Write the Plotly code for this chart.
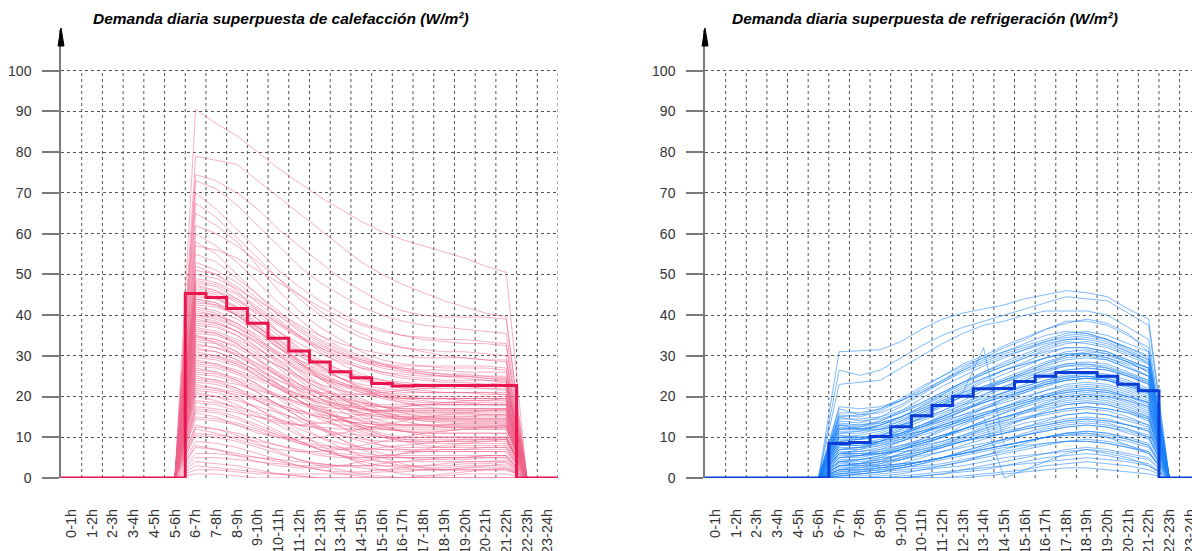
import plotly.graph_objects as go

# ---------------- data ----------------
hour_labels = ["0-1h", "1-2h", "2-3h", "3-4h", "4-5h", "5-6h", "6-7h", "7-8h", "8-9h",
               "9-10h", "10-11h", "11-12h", "12-13h", "13-14h", "14-15h", "15-16h",
               "16-17h", "17-18h", "18-19h", "19-20h", "20-21h", "21-22h", "22-23h", "23-24h"]

# average (thick step line), one value per hour 0-1h ... 23-24h
heating_mean = [0, 0, 0, 0, 0, 0, 45.3, 44.3, 41.6, 38.0, 34.3, 31.2, 28.5, 26.1, 24.6, 23.2,
                22.6, 22.7, 22.7, 22.7, 22.7, 22.7, 0, 0]
cooling_mean = [0, 0, 0, 0, 0, 0, 8.5, 8.7, 10.2, 12.6, 15.3, 17.8, 20.1, 21.9, 22.0, 23.7,
                25.0, 25.9, 25.9, 25.0, 23.0, 21.4, 0, 0]

# individual days, values for hours 6-7h ... 21-22h (zero outside)
H01 = [90.5, 87, 84, 80, 76, 72.5, 69, 66, 63, 60.5, 58.5, 57, 55.5, 54, 52, 50.5]
H02 = [79, 78, 77, 73, 69, 65, 61, 57, 53, 50, 47.5, 45.5, 43.5, 42, 40.5, 39.5]
H03 = [74.5, 73, 70, 66, 61, 57, 53, 49, 46, 43, 41, 40, 39.5, 39.5, 39.5, 39]
H04 = [73, 71, 67, 62, 57, 52, 48, 45, 42, 40, 38.5, 37.5, 37, 36.5, 36, 35.5]
H05 = [70, 66, 61, 56, 51, 47, 43.5, 40.5, 38, 36.5, 35, 34, 33.5, 33, 33, 32.5]
H06 = [67.5, 64, 59, 54, 49, 44, 40, 37, 34.5, 33, 32, 31.5, 31, 31, 30.5, 30]
H07 = [65, 62, 58, 52, 46, 41, 37, 34, 31, 29, 28, 27.5, 27, 27, 27, 26.5]
H08 = [62, 60, 57, 53, 49, 45, 41, 38, 35.5, 33.5, 32, 31, 30, 29.5, 29, 28.5]
H09 = [60, 57, 53, 48, 43, 39, 35, 32, 30, 28, 26.5, 25.5, 25, 25, 24.5, 24]
H10 = [58, 55, 50, 45, 40, 36, 33, 30.5, 28.5, 27, 26, 25.5, 25, 24.5, 24, 24]
H11 = [55, 53, 49, 45, 41, 37, 34, 31.5, 29.5, 28, 27, 26, 25.5, 25, 25, 24.5]
H12 = [53, 51, 48, 44, 40, 36.5, 33.5, 31, 29, 27.5, 26.5, 26, 25.5, 25.5, 25, 25]
H13 = [51, 50, 47, 43, 39, 35, 31, 28, 25.5, 24, 23, 22.5, 22.5, 22.5, 22, 22]
H14 = [50, 49, 46.5, 43.5, 40.5, 37.5, 35, 33, 31.5, 30.5, 30, 29.5, 29.5, 29.5, 29, 29]
H15 = [48, 47, 44, 40, 36, 32, 29, 26.5, 24.5, 23, 22, 21.5, 21, 21, 21, 20.5]
H16 = [47, 46, 44, 41, 38, 35, 32.5, 30.5, 29, 28, 27.5, 27.5, 27.5, 27.5, 27.5, 27]
H17 = [46, 45, 42, 38, 34, 30, 27, 24.5, 22.5, 21, 20, 19.5, 19.5, 19, 19, 19]
H18 = [45, 44, 41, 37, 33, 29, 26, 23.5, 21.5, 20, 19, 18.5, 18.5, 18.5, 18, 18]
H19 = [44, 43, 40.5, 37, 33.5, 30.5, 28, 26, 24.5, 23.5, 23, 23, 23, 22.5, 22.5, 22.5]
H20 = [43, 42.5, 40, 36, 32, 28, 24.5, 21.5, 19, 17.5, 16.5, 16, 16, 16, 15.5, 15.5]
H21 = [42, 41, 39, 36, 33, 30, 27.5, 25.5, 24, 23, 22.5, 22, 22, 22, 22, 21.5]
H22 = [41, 40, 37.5, 34, 30, 26, 22.5, 19.5, 17, 15.5, 14.5, 14, 14, 14, 14, 14]
H23 = [40, 39.5, 37, 33, 29, 25, 21, 18, 15.5, 14, 13, 13, 13, 13, 13, 13]
H24 = [39, 38, 36, 33, 30, 27, 24.5, 22.5, 21, 20, 19.5, 19.5, 19.5, 19.5, 19.5, 19.5]
H25 = [38, 37.5, 35, 31, 27, 23, 19.5, 16.5, 14, 12.5, 11.5, 11, 11, 11, 11, 11]
H26 = [37, 36, 34, 31.5, 29, 26.5, 24.5, 23, 22, 21.5, 21, 21, 21, 21, 21, 21]
H27 = [36, 35.5, 33, 29, 25, 21, 17.5, 14.5, 12, 10.5, 9.5, 9, 9, 9.5, 9.5, 9.5]
H28 = [35, 34, 32, 29, 26, 23, 20.5, 18.5, 17, 16, 15.5, 15.5, 15.5, 15.5, 15.5, 15.5]
H29 = [34, 33.5, 31, 27, 23, 19, 15.5, 12.5, 10, 8, 7, 6.5, 6.5, 6.5, 6.5, 6.5]
H30 = [33, 32, 30, 27.5, 25, 22.5, 20.5, 19, 18, 17.5, 17, 17, 17, 17, 17, 17]
H31 = [32, 31, 29, 26, 23, 20, 17, 14.5, 12.5, 11, 10, 10, 10, 10, 10, 10]
H32 = [30, 29.5, 28, 25.5, 23, 20.5, 18.5, 17, 16, 15.5, 15, 15, 15, 15, 15.5, 15.5]
H33 = [29, 28, 26, 23, 19.5, 16, 12.5, 9.5, 7, 5, 3.5, 2.5, 2, 2, 2, 2]
H34 = [28, 27.5, 26, 24, 22, 20, 18.5, 17.5, 17, 16.5, 16.5, 16.5, 16.5, 16.5, 16.5, 16.5]
H35 = [27, 26, 24, 21, 18, 15, 12, 9.5, 7.5, 6, 5, 4.5, 4.5, 4.5, 5, 5]
H36 = [26, 25.5, 24, 22, 20, 18, 16.5, 15, 14, 13.5, 13, 13, 13, 13.5, 13.5, 13.5]
H37 = [25, 24, 22, 19, 16, 13, 10, 7.5, 5.5, 4, 3, 2.5, 2.5, 3, 3, 3]
H38 = [24, 23.5, 22, 20, 18, 16.5, 15, 14, 13.5, 13, 13, 13, 13, 13, 13, 13]
H39 = [23, 22, 20, 17, 14, 11, 8, 5.5, 3.5, 2, 1, 0.5, 0.5, 1, 1, 1]
H40 = [22, 21.5, 20.5, 19, 17.5, 16, 15, 14, 13.5, 13, 13, 13, 12.5, 12.5, 12.5, 12.5]
H41 = [21, 20, 18, 15.5, 13, 10.5, 8.5, 7, 6, 5.5, 5.5, 5.5, 5.5, 5.5, 5.5, 5.5]
H42 = [19, 18.5, 17.5, 16, 14.5, 13, 12, 11, 10.5, 10, 10, 10, 10, 10, 10, 10]
H43 = [17, 16.5, 15, 13, 11, 9, 7, 5.5, 4, 3, 2.5, 2, 2, 2.5, 2.5, 2.5]
H44 = [15, 14.5, 13.5, 12, 10.5, 9, 8, 7.5, 7, 7, 7, 7, 7, 7, 7, 7]
H45 = [13, 12, 10.5, 8.5, 6.5, 4.5, 3, 2, 1, 0.5, 0, 0, 0, 0, 0, 0]
H46 = [11, 10.5, 10, 9, 8, 7, 6, 5.5, 5, 5, 5, 5, 5, 5, 5, 5]
H47 = [9, 8.5, 7.5, 6, 4.5, 3, 2, 1, 0.5, 0, 0, 0, 0, 0, 0, 0]
H48 = [3, 2.5, 2, 1.5, 1, 0.5, 0, 0, 0, 0, 0, 0, 0, 0, 0, 0]
H49 = [5, 5, 4.5, 4, 3.5, 3, 3, 3, 3, 3, 3, 3, 3, 3.5, 3.5, 4]
H50 = [2, 2, 1.5, 1, 1, 1, 1, 1, 1, 1.5, 1.5, 2, 2, 2.5, 3, 3.5]
H51 = [8, 7, 5.5, 4, 3, 2.5, 2.5, 3, 4, 5, 6, 7, 8, 8.5, 9, 9.5]
H52 = [12, 11, 9.5, 8, 7, 6.5, 6.5, 7, 8, 9, 10, 11, 11.5, 12, 12.5, 13]
H53 = [16, 15, 13, 11, 10, 9.5, 10, 11, 12, 13, 14, 15, 15.5, 16, 16.5, 17]
H54 = [20, 19, 17, 15, 13.5, 13, 13.5, 14.5, 15.5, 16.5, 17.5, 18, 18.5, 19, 19, 19.5]
H55 = [35, 33, 30, 27, 24, 22, 21, 20.5, 20.5, 21, 21.5, 22, 22.5, 23, 23, 23.5]
H56 = [31, 30, 28, 25, 22, 19, 16.5, 14.5, 13, 12, 11.5, 11.5, 11.5, 12, 12, 12]
H57 = [57, 56, 54, 51, 48, 45, 42, 39.5, 37.5, 36, 35, 34.5, 34, 34, 33.5, 33]
H58 = [52, 50, 46, 41, 36, 31.5, 27.5, 24.5, 22, 20.5, 19.5, 19, 18.5, 18.5, 18.5, 18.5]
H59 = [49, 48, 45.5, 42, 38.5, 35, 32, 29.5, 27.5, 26, 25, 24.5, 24, 24, 24, 23.5]
H60 = [47.5, 46, 43, 39, 35, 31, 27.5, 24.5, 22, 20, 18.5, 17.5, 17, 17, 17, 17]
H61 = [46.5, 45.5, 43.5, 40.5, 37.5, 34.5, 32, 30, 28.5, 27.5, 27, 26.5, 26.5, 26, 26, 26]
H62 = [45.5, 44.5, 41.5, 37.5, 33, 28.5, 24.5, 21, 18.5, 16.5, 15, 14, 13.5, 13.5, 13.5, 13.5]
H63 = [44.5, 44, 42, 39, 36, 33, 30.5, 28.5, 27, 26, 25.5, 25, 25, 25, 24.5, 24.5]
H64 = [43.5, 42.5, 40, 36.5, 32.5, 28.5, 25, 22, 19.5, 17.5, 16, 15, 14.5, 14.5, 14.5, 14.5]
H65 = [42.5, 42, 40, 37, 34, 31, 28.5, 26.5, 25, 24, 23.5, 23, 23, 23, 23, 22.5]
H66 = [41.5, 40.5, 38, 34.5, 30.5, 26.5, 23, 20, 17.5, 15.5, 14, 13, 12.5, 12.5, 12.5, 12.5]
H67 = [40.5, 40, 38, 35, 32, 29, 26.5, 24.5, 23, 22, 21.5, 21, 21, 21, 20.5, 20.5]
H68 = [39.5, 38.5, 36, 32, 28, 24, 20.5, 17.5, 15, 13, 11.5, 10.5, 10, 10, 10, 10]
H69 = [38.5, 38, 36, 33.5, 30.5, 27.5, 25, 23, 21.5, 20.5, 20, 19.5, 19.5, 19.5, 19.5, 19.5]
H70 = [37.5, 37, 35, 32, 28.5, 25, 22, 19.5, 17.5, 16, 15, 14.5, 14, 14, 14, 14]
H71 = [36.5, 35.5, 33.5, 30.5, 27.5, 24.5, 22, 20, 18.5, 17.5, 17, 17, 17, 17, 17, 17]
H72 = [35.5, 35, 33, 29.5, 25.5, 21.5, 18, 15, 12.5, 10.5, 9, 8, 7.5, 7.5, 7.5, 7.5]
H73 = [34.5, 34, 32.5, 30, 27.5, 25, 23, 21.5, 20.5, 20, 19.5, 19.5, 19.5, 19.5, 19.5, 19.5]
H74 = [33.5, 33, 31, 28, 25, 22, 19.5, 17.5, 16, 15, 14.5, 14.5, 14.5, 14.5, 14.5, 14.5]
H75 = [32.5, 32, 30.5, 28, 25.5, 23, 21, 19.5, 18.5, 18, 18, 18, 18, 18, 18, 18]
H76 = [31.5, 31, 29, 26, 22.5, 19, 16, 13.5, 11.5, 10, 9, 8.5, 8.5, 8.5, 8.5, 8.5]
H77 = [30.5, 30, 28.5, 26.5, 24, 21.5, 19.5, 18, 17, 16.5, 16, 16, 16, 16, 16, 16]
H78 = [29.5, 29, 27.5, 25, 22, 19, 16.5, 14.5, 13, 12, 11.5, 11, 11, 11, 11, 11]
H79 = [28.5, 28, 26.5, 24.5, 22.5, 20.5, 19, 18, 17.5, 17.5, 17.5, 18, 18, 18, 18, 18]
H80 = [27.5, 27, 25.5, 23, 20, 17, 14.5, 12.5, 11, 10, 9.5, 9.5, 9.5, 9.5, 9.5, 10]
H81 = [26.5, 26, 24.5, 22.5, 20.5, 18.5, 17, 16, 15.5, 15, 15, 15, 15, 15, 15, 15]
H82 = [25.5, 25, 23.5, 21, 18, 15, 12.5, 10.5, 9, 8, 7.5, 7.5, 7.5, 8, 8, 8]
H83 = [24.5, 24, 23, 21.5, 20, 18.5, 17.5, 17, 16.5, 16.5, 16.5, 16.5, 16.5, 16.5, 16.5, 16.5]
H84 = [23.5, 23, 21.5, 19, 16.5, 14, 12, 10.5, 9.5, 9, 9, 9, 9, 9, 9, 9]
H85 = [22.5, 22, 21, 19.5, 18, 16.5, 15.5, 15, 14.5, 14.5, 14.5, 14.5, 14.5, 14.5, 14.5, 14.5]
H86 = [21.5, 21, 19.5, 17, 14.5, 12, 10, 8.5, 7.5, 7, 6.5, 6.5, 6.5, 6.5, 6.5, 6.5]
H87 = [20.5, 20, 19, 17.5, 16, 14.5, 13.5, 13, 12.5, 12.5, 12.5, 12.5, 12.5, 12.5, 12.5, 12.5]
H88 = [18.5, 18, 16.5, 14, 11.5, 9, 7, 5.5, 4.5, 4, 4, 4, 4, 4, 4, 4]
H89 = [17.5, 17, 16, 15, 14, 13, 12.5, 12, 12, 12, 12, 12, 12, 12, 12, 12]
H90 = [16.5, 16, 14.5, 12.5, 10.5, 8.5, 7, 6, 5.5, 5, 5, 5, 5, 5, 5.5, 5.5]
H91 = [14.5, 14, 13, 11.5, 10, 8.5, 7.5, 7, 7, 7.5, 8, 8.5, 9, 9, 9.5, 9.5]
H92 = [12.5, 12, 11, 9.5, 8, 6.5, 5.5, 5, 5, 5.5, 6, 6.5, 7, 7, 7.5, 7.5]
H93 = [10.5, 10, 9, 7.5, 6, 4.5, 3.5, 3, 3, 3.5, 4, 4.5, 5, 5, 5.5, 5.5]
H94 = [7.5, 7, 6, 5, 4, 3, 2, 1.5, 1.5, 2, 2.5, 3, 3.5, 4, 4, 4.5]
H95 = [4, 3.5, 3, 2, 1, 0.5, 0, 0, 0, 0, 0, 0.5, 1, 1.5, 2, 2.5]
H96 = [1, 1, 0.5, 0, 0, 0, 0, 0, 0, 0, 0, 0, 0, 0, 0, 0]
H97 = [6, 6, 5.5, 5, 4.5, 4, 3.5, 3, 2.5, 2, 2, 2, 2, 2, 2, 2]
H98 = [40, 39, 37, 34, 31, 28, 25.5, 23.5, 22, 21, 20.5, 20, 20, 20, 20, 20]
H99 = [44, 43, 40, 36, 32, 28.5, 25.5, 23, 21, 19.5, 18.5, 18, 18, 18, 18, 18]
H100 = [48.5, 47.5, 45, 41.5, 38, 34.5, 31.5, 29, 27, 25.5, 24.5, 24, 23.5, 23.5, 23, 23]

C01 = [31, 31.2, 31.5, 33.5, 36.5, 39, 40.5, 41.5, 42.5, 44, 45, 46, 45.5, 44.5, 41.5, 39]
C02 = [26.5, 25.2, 26.5, 29.5, 32.5, 35, 37, 38.5, 40, 41.5, 43, 44.5, 44, 43.5, 40.5, 37.5]
C03 = [23, 23.5, 24, 27, 30, 33, 35.5, 37.5, 38.5, 40, 41, 41, 41, 40, 37, 34]
C04 = [17, 15.5, 16, 18, 21, 24, 27, 29.5, 32, 34, 36.5, 38.5, 38.5, 37.5, 35, 32]
C05 = [15.5, 15, 16.5, 19, 22, 25, 28, 30, 32.5, 34.5, 36.5, 38, 39, 38, 35.5, 31]
C06 = [14, 13.5, 15, 17.5, 20.5, 23.5, 26.5, 29, 31, 33, 35, 36, 35.5, 34, 31.5, 29]
C07 = [13, 12.5, 14, 16.5, 19.5, 22.5, 25, 27.5, 29.5, 31.5, 33.5, 35, 35.5, 34, 32, 29.5]
C08 = [12, 12, 13, 15, 17.5, 20.5, 23.5, 26, 28, 30, 32, 33.5, 33, 32, 30, 28]
C09 = [11, 11, 12, 14, 16.5, 19, 21.5, 24, 26.5, 28.5, 30.5, 32, 32, 31, 29, 27]
C10 = [10, 10.5, 11.5, 13.5, 16, 18.5, 21, 23.5, 25.5, 27.5, 29.5, 31, 31.5, 30.5, 28.5, 26]
C11 = [9, 9.5, 10.5, 12.5, 15, 17.5, 20, 22, 24, 26, 28, 30, 30.5, 29.5, 27.5, 25]
C12 = [8, 8.5, 9.5, 11, 13, 15.5, 18, 20.5, 22.5, 24.5, 26.5, 28, 28.5, 28, 26, 24]
C13 = [7, 7.5, 8.5, 10, 12, 14, 16.5, 19, 21, 23, 25, 26.5, 27, 26.5, 25, 23]
C14 = [6, 6.5, 7.5, 9, 11, 13, 15, 17, 19, 21, 23, 24.5, 25, 24.5, 23, 21]
C15 = [5, 5.5, 6.5, 8, 9.5, 11.5, 13.5, 15.5, 17.5, 19.5, 21.5, 23, 23.5, 23, 21.5, 19.5]
C16 = [4, 4.5, 5.5, 7, 8.5, 10, 12, 14, 16, 18, 20, 21.5, 22, 21.5, 20, 18]
C17 = [3, 3.5, 4.5, 6, 7.5, 9, 10.5, 12.5, 14.5, 16.5, 18.5, 20, 20.5, 20, 18.5, 16.5]
C18 = [2, 2.5, 3.5, 5, 6.5, 8, 9.5, 11, 12.5, 14.5, 16.5, 18, 18.5, 18, 16.5, 14.5]
C19 = [1, 1.5, 2.5, 3.5, 5, 6.5, 8, 9.5, 11, 12.5, 14, 15.5, 16, 15.5, 14, 12.5]
C20 = [0.5, 1, 1.5, 2.5, 3.5, 5, 6.5, 8, 9.5, 11, 12.5, 13.5, 14, 13.5, 12, 10.5]
C21 = [0, 0, 0.5, 1, 2, 3, 4, 5.5, 7, 8.5, 10, 11, 11.5, 11, 9.5, 8]
C22 = [0, 0, 0, 0, 0.5, 1, 2, 3, 4, 5, 6, 7, 7.5, 7, 6, 5]
C23 = [0, 0, 0, 0, 0, 0, 0.5, 1, 1.5, 2, 3, 3.5, 4, 3.5, 3, 2]
C24 = [15, 14, 14.5, 16, 18, 20.5, 23, 25.5, 27.5, 29.5, 31.5, 33, 33.5, 32.5, 30.5, 28.5]
C25 = [9, 8.5, 9, 10.5, 12.5, 15, 17.5, 20, 22, 24, 26, 27.5, 28, 27.5, 25.5, 23.5]
C26 = [5, 5, 6, 7.5, 9.5, 12, 14.5, 17, 19.5, 21.5, 23.5, 25, 25.5, 25, 23.5, 21.5]
C27 = [3, 3, 3.5, 4.5, 6, 8, 10, 12, 14, 16, 18, 19.5, 20, 19.5, 18, 16]
C28 = [12, 12.5, 13.5, 15, 17, 19, 21, 22.5, 24, 25.5, 27, 28, 28, 27, 25, 23]
C29 = [7, 7, 8, 9.5, 11.5, 13.5, 15.5, 17.5, 19.5, 21, 22.5, 24, 24.5, 24, 22.5, 20.5]
C30 = [4, 4, 4.5, 5.5, 7, 8.5, 10, 11.5, 13, 14.5, 16, 17, 17.5, 17, 16, 14]
C31 = [2, 2, 2.5, 3, 4, 5, 6, 7.5, 9, 10.5, 12, 13, 13.5, 13, 12, 10]
C32 = [1, 1, 1.5, 2, 2.5, 3, 4, 5, 6, 7, 8, 9, 9.5, 9, 8, 6.5]
C33 = [10, 10, 10.5, 11.5, 13, 15, 17, 19, 21, 22.5, 24, 25, 25, 24, 22, 20]
C34 = [6, 6, 6.5, 7.5, 9, 10.5, 12, 13.5, 15, 16.5, 18, 19, 19.5, 19, 17.5, 15.5]
C35 = [13, 13, 14, 16, 18.5, 21, 23.5, 26, 28.5, 30.5, 32.5, 34, 34.5, 33.5, 31, 28]
C36 = [8, 8, 8.5, 9.5, 11, 12.5, 14, 15.5, 17, 18.5, 20, 21, 21.5, 21, 19.5, 17.5]
C37 = [6, 7, 9, 12, 15, 18, 21, 32, 8, 9, 10, 11, 11, 10, 8, 6]
C38 = [2, 3, 4, 6, 8, 10, 13, 15, 0, 2, 4, 6, 7, 6, 5, 3]
C39 = [16, 16, 17, 19, 21.5, 24, 26.5, 28.5, 30.5, 32, 33.5, 34.5, 35, 34, 32, 30]
C40 = [14.5, 14.5, 15, 16.5, 18.5, 21, 23.5, 25.5, 27.5, 29.5, 31, 32, 32, 31, 29, 27]
C41 = [13.5, 13, 13.5, 15, 17, 19.5, 22, 24.5, 26.5, 28, 29.5, 30.5, 30.5, 29.5, 28, 26.5]
C42 = [12.5, 12, 12.5, 14, 16, 18, 20, 22, 24, 26, 28, 29.5, 30, 29, 27, 25]
C43 = [11.5, 11.5, 12, 13, 14.5, 16.5, 18.5, 20.5, 22.5, 24, 25.5, 26.5, 27, 26.5, 25, 23.5]
C44 = [10.5, 10, 10.5, 12, 14, 16, 18, 19.5, 21, 22.5, 24, 25.5, 26, 25.5, 24, 22]
C45 = [9.5, 9.5, 10, 11, 12.5, 14, 15.5, 17, 18.5, 20, 21.5, 22.5, 23, 22.5, 21, 19]
C46 = [8.5, 8.5, 9, 10, 11.5, 13, 14.5, 16, 17.5, 19, 20.5, 22, 22.5, 22, 20.5, 18.5]
C47 = [7.5, 7.5, 8, 9, 10.5, 12, 13.5, 15, 16.5, 18, 19.5, 20.5, 21, 20.5, 19, 17]
C48 = [6.5, 6.5, 7, 8, 9, 10.5, 12, 13.5, 15, 16.5, 17.5, 18.5, 19, 18.5, 17, 15]
C49 = [5.5, 5.5, 6, 7, 8, 9, 10.5, 12, 13.5, 14.5, 15.5, 16.5, 17, 16.5, 15, 13]
C50 = [4.5, 4.5, 5, 5.5, 6.5, 7.5, 9, 10.5, 11.5, 12.5, 13.5, 14.5, 15, 14.5, 13, 11.5]
C51 = [3.5, 3.5, 4, 4.5, 5.5, 6.5, 7.5, 8.5, 9.5, 10.5, 11.5, 12.5, 13, 12.5, 11, 9.5]
C52 = [2.5, 2.5, 3, 3.5, 4, 5, 6, 7, 8, 9, 10, 10.5, 11, 10.5, 9.5, 8]
C53 = [1.5, 1.5, 2, 2.5, 3, 3.5, 4.5, 5.5, 6.5, 7.5, 8.5, 9, 9, 8.5, 7.5, 6]
C54 = [0.5, 0.5, 1, 1.5, 2, 2.5, 3, 4, 5, 5.5, 6, 6.5, 7, 6.5, 5.5, 4.5]
C55 = [0, 0, 0, 0.5, 1, 1.5, 2, 2.5, 3, 3.5, 4, 4.5, 5, 4.5, 4, 3]
C56 = [0, 0, 0, 0, 0, 0, 0, 0.5, 1, 1.5, 2, 2.5, 2.5, 2, 1.5, 1]
C57 = [15, 15.5, 17, 19.5, 22.5, 25, 27.5, 29.5, 31, 32.5, 34, 35.5, 36, 35, 33, 31]
C58 = [11, 11.5, 13, 15, 17.5, 20, 22.5, 24.5, 26.5, 28, 29.5, 30.5, 30.5, 30, 28.5, 27]
C59 = [9, 9.5, 11, 13, 15.5, 18, 20, 22, 23.5, 25, 26.5, 27.5, 27.5, 27, 25.5, 24]
C60 = [7, 7.5, 9, 11, 13, 15, 17, 18.5, 20, 21.5, 23, 24, 24.5, 24, 22.5, 21]
C61 = [5, 5.5, 7, 9, 11, 13, 14.5, 16, 17.5, 19, 20.5, 21.5, 22, 21.5, 20, 18.5]
C62 = [3, 3.5, 5, 7, 9, 10.5, 12, 13.5, 15, 16, 17, 18, 18.5, 18, 16.5, 15]
C63 = [1.5, 2, 3, 4.5, 6, 7.5, 9, 10, 11, 12, 13, 14, 14.5, 14, 13, 11.5]
C64 = [0.5, 1, 1.5, 2.5, 3.5, 4.5, 5.5, 6.5, 7.5, 8, 8.5, 9, 9, 8.5, 7.5, 6.5]
C65 = [13, 12, 12, 13, 14.5, 16.5, 19, 21.5, 23.5, 25.5, 27.5, 29, 29.5, 29, 27, 25]
C66 = [10, 9.5, 10, 11, 12.5, 14.5, 16.5, 18.5, 20.5, 22, 23.5, 24.5, 25, 24.5, 23, 21]
C67 = [6, 5.5, 6, 7, 8.5, 10, 12, 14, 16, 17.5, 19, 20, 20.5, 20, 19, 17.5]
C68 = [4, 3.5, 4, 5, 6, 7.5, 9, 10.5, 12, 13.5, 14.5, 15.5, 16, 15.5, 14.5, 13]
C69 = [2, 2, 2.5, 3, 4, 5, 6.5, 8, 9.5, 10.5, 11.5, 12.5, 13, 12.5, 11.5, 10]
C70 = [12, 12, 13, 14.5, 16.5, 18.5, 20.5, 22.5, 24.5, 26.5, 28.5, 30, 31, 30.5, 28.5, 26]
C71 = [8, 8, 9, 10.5, 12.5, 14.5, 16.5, 18.5, 20, 21.5, 23, 24, 24.5, 24, 23, 21.5]
C72 = [4, 4.5, 5.5, 7, 8.5, 10, 11.5, 13, 14, 15, 16, 17, 17.5, 17, 16, 14.5]
C73 = [1, 1.5, 2, 3, 4, 5, 6, 7, 8, 9, 10, 11, 11.5, 11, 10, 8.5]
C74 = [17.5, 17, 17.5, 19, 21, 23.5, 26, 28, 30, 31.5, 33, 34, 34, 33, 31, 29]
C75 = [3, 3, 3, 3.5, 4, 5, 6, 7, 8, 9, 10, 10.5, 10.5, 10, 9, 7.5]
C76 = [0, 0, 0, 0, 0.5, 1, 1.5, 2, 3, 4, 5, 5.5, 6, 5.5, 4.5, 3.5]
C77 = [10, 10, 10, 10.5, 11.5, 12.5, 14, 15.5, 17, 18.5, 20, 21, 21.5, 21, 20, 18.5]
C78 = [6, 6, 6, 6.5, 7, 8, 9, 10, 11, 12, 13, 14, 14.5, 14, 13, 12]

heating_lines = [H01, H02, H03, H04, H05, H06, H07, H08, H09, H10, H11, H12, H13, H14,
                 H15, H16, H17, H18, H19, H20, H21, H22, H23, H24, H25, H26, H27, H28,
                 H29, H30, H31, H32, H33, H34, H35, H36, H37, H38, H39, H40, H41, H42,
                 H43, H44, H45, H46, H47, H48, H49, H50, H51, H52, H53, H54, H55, H56,
                 H57, H58, H59, H60, H61, H62, H63, H64, H65, H66, H67, H68, H69, H70,
                 H71, H72, H73, H74, H75, H76, H77, H78, H79, H80, H81, H82, H83, H84,
                 H85, H86, H87, H88, H89, H90, H91, H92, H93, H94, H95, H96, H97, H98,
                 H99, H100]
cooling_lines = [C01, C02, C03, C04, C05, C06, C07, C08, C09, C10, C11, C12, C13, C14,
                 C15, C16, C17, C18, C19, C20, C21, C22, C23, C24, C25, C26, C27, C28,
                 C29, C30, C31, C32, C33, C34, C35, C36, C37, C38, C39, C40, C41, C42,
                 C43, C44, C45, C46, C47, C48, C49, C50, C51, C52, C53, C54, C55, C56,
                 C57, C58, C59, C60, C61, C62, C63, C64, C65, C66, C67, C68, C69, C70,
                 C71, C72, C73, C74, C75, C76, C77, C78]

title_heat = "Demanda diaria superpuesta de calefacción (W/m²)"
title_cool = "Demanda diaria superpuesta de refrigeración (W/m²)"
y_ticks = [0, 10, 20, 30, 40, 50, 60, 70, 80, 90, 100]

# ---------------- styling ----------------
W, H = 1192, 551
FONT = "Liberation Sans, Arial, sans-serif"
PX_L0, PX_L1 = 61, 558          # left plot x=0 and x=24
PX_R0 = 705                     # right plot x=0
HOUR_PX = (PX_L1 - PX_L0) / 24
PY0, PYTOP = 478, 30            # y=0 and y=110 in pixels
Y_MAX = 110

heat_thin = "rgba(240,100,140,0.5)"
heat_thick = "#E8164D"
cool_thin = "rgba(25,130,250,0.55)"
cool_thick = "#0A3CD6"
grid_col = "#555555"
axis_col = "#7a7a7a"

mid_x = [h + 0.5 for h in range(24)]
edge_x = list(range(25))


def full_day(vals16):
    return [0] * 6 + list(vals16) + [0] * 2


fig = go.Figure()

for xa, ya, lines, thin_col, mean, thick_col in [
        ("x", "y", heating_lines, heat_thin, heating_mean, heat_thick),
        ("x2", "y2", cooling_lines, cool_thin, cooling_mean, cool_thick)]:
    for v in lines:
        fig.add_trace(go.Scatter(x=mid_x, y=full_day(v), mode="lines", xaxis=xa, yaxis=ya,
                                 line=dict(color=thin_col, width=1), hoverinfo="skip",
                                 showlegend=False))
    fig.add_trace(go.Scatter(x=edge_x, y=list(mean) + [mean[-1]], mode="lines",
                             line_shape="hv", xaxis=xa, yaxis=ya,
                             line=dict(color=thick_col, width=3), showlegend=False))

right_range_end = 23.6

xaxis_common = dict(
    tickmode="array", tickvals=mid_x, ticktext=hour_labels, tickangle=-90,
    tickfont=dict(family=FONT, size=14.5, color="#333333"),
    showgrid=False, zeroline=False, showline=False, ticks="", ticklabelstandoff=27,
    ticklabeloverflow="allow", automargin=False, fixedrange=True)
yaxis_common = dict(
    range=[0, Y_MAX], tickmode="array", tickvals=y_ticks,
    tickfont=dict(family=FONT, size=14, color="#333333"),
    showgrid=True, gridcolor=grid_col, griddash="dot", gridwidth=1,
    zeroline=False, showline=True, linecolor=axis_col, linewidth=1.5,
    ticks="outside", ticklen=17, tickcolor=axis_col, tickwidth=1.5,
    ticklabelstandoff=8, automargin=False,
    domain=[(H - PY0) / H, (H - PYTOP) / H], fixedrange=True)

fig.update_layout(
    width=W, height=H, margin=dict(l=0, r=0, t=0, b=0, autoexpand=False),
    paper_bgcolor="white", plot_bgcolor="white", showlegend=False,
    xaxis=dict(xaxis_common, range=[0, 24], domain=[PX_L0 / W, PX_L1 / W], anchor="y"),
    yaxis=dict(yaxis_common, anchor="x"),
    xaxis2=dict(xaxis_common, range=[0, right_range_end], domain=[PX_R0 / W, 1.0], anchor="y2"),
    yaxis2=dict(yaxis_common, anchor="x2"),
)

shapes = []
for xr, yr, n in [("x", "y", 24), ("x2", "y2", 23)]:
    for h in range(1, n + 1):
        shapes.append(dict(type="line", xref=xr, yref=yr, x0=h, x1=h, y0=0, y1=100,
                           line=dict(color=grid_col, width=1, dash="dot"), layer="below"))

# arrow heads on top of the y axes
for px in (PX_L0, PX_R0):
    xl, xc, xr_ = (px - 3) / W, px / W, (px + 3) / W
    yt, yb = (H - PYTOP + 2) / H, (H - PYTOP - 16) / H
    shapes.append(dict(type="path", xref="paper", yref="paper",
                       path=f"M {xl},{yb} L {xc},{yt} L {xr_},{yb} Z",
                       fillcolor="black", line=dict(color="black", width=1)))
fig.update_layout(shapes=shapes)

for txt, cx in [(title_heat, 281), (title_cool, 925)]:
    fig.add_annotation(text=f"<b><i>{txt}</i></b>", x=cx / W, y=(H - 19) / H,
                       xref="paper", yref="paper", showarrow=False,
                       xanchor="center", yanchor="middle",
                       font=dict(family=FONT, size=15.5, color="black"))

fig.write_html("out.html", config={"displayModeBar": False},
               post_script="document.body.style.margin='0';document.body.style.overflow='hidden';")
